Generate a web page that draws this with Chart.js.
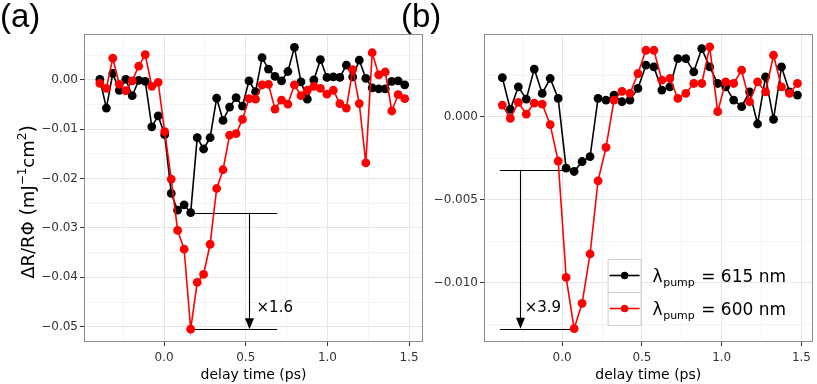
<!DOCTYPE html>
<html>
<head>
<meta charset="utf-8">
<script src="https://cdn.jsdelivr.net/npm/chart.js@4"></script>
<style>
  html, body { margin: 0; padding: 0; background: #fff; }
  #wrap { position: relative; width: 817px; height: 384px; overflow: hidden; }
  .panel { position: absolute; top: 0; height: 384px; }
  #panelA { left: 0; width: 430px; }
  #panelB { left: 430px; width: 387px; }
  .tag { position: absolute; top: -3px; font: 33px "Liberation Sans", sans-serif; color: #000; }
</style>
</head>
<body>
<div id="wrap">
  <div class="panel" id="panelA"><canvas id="chartA"></canvas></div>
  <div class="panel" id="panelB"><canvas id="chartB"></canvas></div>
  <div class="tag" style="left:0px">(a)</div>
  <div class="tag" style="left:401px">(b)</div>
</div>
<script>
// ---- panel (a) data: delay time (ps) and ΔR/RΦ
const timeA = [-0.393, -0.353, -0.314, -0.274, -0.234, -0.195, -0.155, -0.115, -0.075, -0.036,
  0.004, 0.044, 0.083, 0.123, 0.163, 0.203, 0.242, 0.282, 0.322, 0.361,
  0.401, 0.441, 0.480, 0.520, 0.560, 0.600, 0.639, 0.679, 0.719, 0.758,
  0.798, 0.838, 0.877, 0.917, 0.957, 0.997, 1.036, 1.076, 1.116, 1.155,
  1.195, 1.235, 1.274, 1.314, 1.354, 1.394, 1.433, 1.473];
const blackA = [0.0001, -0.0057, 0.0013, -0.0021, 0.0001, -0.0032, -0.0001, -0.0003, -0.0095, -0.0073,
  -0.0111, -0.0230, -0.0264, -0.0253, -0.0269, -0.0117, -0.0140, -0.0117, -0.0037, -0.0082,
  -0.0055, -0.0036, -0.0053, -0.0002, -0.0024, 0.0045, 0.0022, 0.0007, -0.0002, 0.0017,
  0.0066, -0.0004, -0.0039, 0.0000, 0.0041, 0.0005, 0.0006, 0.0005, 0.0030, 0.0006,
  0.0040, 0.0003, -0.0016, -0.0018, -0.0018, -0.0003, -0.0002, -0.0010];
const redA = [-0.0007, -0.0017, 0.0044, -0.0009, -0.0022, -0.0002, 0.0028, 0.0051, -0.0013, -0.0005,
  -0.0105, -0.0201, -0.0305, -0.0343, -0.0505, -0.0410, -0.0394, -0.0333, -0.0220, -0.0182,
  -0.0112, -0.0109, -0.0080, -0.0038, -0.0039, -0.0010, -0.0009, -0.0059, -0.0041, -0.0049,
  -0.0010, -0.0032, -0.0021, -0.0013, -0.0017, -0.0029, -0.0021, -0.0048, -0.0057, 0.0021,
  -0.0048, -0.0168, 0.0055, 0.0010, 0.0016, -0.0063, -0.0030, -0.0038];

// ---- panel (b) data
const timeB = [-0.375, -0.325, -0.275, -0.225, -0.175, -0.125, -0.075, -0.025, 0.025, 0.075,
  0.125, 0.175, 0.225, 0.275, 0.325, 0.375, 0.425, 0.475, 0.525, 0.575,
  0.625, 0.675, 0.725, 0.775, 0.825, 0.875, 0.925, 0.975, 1.025, 1.075,
  1.125, 1.175, 1.225, 1.275, 1.325, 1.375, 1.425, 1.475];
const blackB = [0.00235, 0.00044, 0.0018, 0.00106, 0.00287, 0.0014, 0.0023, 0.0011, -0.0031, -0.0033,
  -0.0027, -0.0024, 0.0011, 0.0010, 0.0013, 0.0009, 0.0010, 0.0017, 0.0031, 0.0030,
  0.0016, 0.0018, 0.0035, 0.0035, 0.0027, 0.0041, 0.0030, 0.0020, 0.0018, 0.0010,
  0.0006, 0.0015, -0.00044, 0.0024, -0.00016, 0.0030, 0.0015, 0.0013];
const redB = [0.0007, -0.0001, 0.00086, 0.00016, 0.00082, 0.00076, -0.00048, -0.00267, -0.00968, -0.01277,
  -0.01124, -0.00827, -0.00386, -0.00185, 0.0010, 0.00153, 0.0014, 0.0026, 0.0040, 0.0040,
  0.0022, 0.0023, 0.0011, 0.0014, 0.0020, 0.0020, 0.0042, 0.0003, 0.0021, 0.0020,
  0.0028, 0.0009, 0.0021, 0.0015, 0.0037, 0.0018, 0.0014, 0.0020];

// ---- ticks
const xTicks = [0, 0.5, 1, 1.5];
const xMinor = [-0.25, 0.25, 0.75, 1.25];
const yTicksA = [0, -0.01, -0.02, -0.03, -0.04, -0.05];
const yMinorA = [0.005, -0.005, -0.015, -0.025, -0.035, -0.045];
const yTicksB = [0, -0.005, -0.01];
const yMinorB = [0.0025, -0.0025, -0.0075, -0.0125];

// ---- legend + ratio annotations
const seriesWaves = ['615 nm', '600 nm'];
const seriesColors = ['#000000', '#ff0000'];
const levelsA = [-0.0269, -0.0505];
const levelFromA = [0.163, 0.163];
const levelToA = [0.692, 0.692];
const arrowA = [0.518, '×1.6', 0.566, -0.0463];
const levelsB = [-0.0032, -0.01277];
const levelFromB = [-0.391, -0.391];
const levelToB = [0.025, 0.075];
const arrowB = [-0.266, '×3.9', -0.235, -0.0115];

// y title pieces: [text, font size, baseline shift]
const yTitleParts = [['ΔR/RΦ ', 18, 0], ['(', 19, 0], ['mJ', 18, 0], ['\u22121', 12, -8],
  ['cm', 18, 0], ['2', 12, -8], [')', 19, 0]];

const FONT = '"DejaVu Sans", sans-serif';
const MAJOR = '#e6e6e6', MINOR = '#f4f4f4';

function fmt(v, d) {
  return (v < 0 ? '\u2212' : '') + Math.abs(v).toFixed(d);
}

function xAxis(min, max) {
  return {
    type: 'linear', min: min, max: max,
    afterBuildTicks: s => { s.ticks = xMinor.concat(xTicks).sort((a, b) => a - b).map(v => ({value: v})); },
    afterFit: s => { s.height = 42; },
    ticks: {
      autoSkip: false, maxRotation: 0, padding: 5, color: '#333',
      font: {family: FONT, size: 12},
      callback: v => xTicks.includes(v) ? fmt(v, 1) : ''
    },
    grid: {
      color: c => c.tick && xTicks.includes(c.tick.value) ? MAJOR : MINOR,
      tickColor: c => c.tick && xTicks.includes(c.tick.value) ? '#333' : 'rgba(0,0,0,0)',
      tickLength: 4, lineWidth: 1
    },
    border: {display: false},
    title: {display: true, text: 'delay time (ps)', color: '#000', font: {family: FONT, size: 14}, padding: 0}
  };
}

function yAxis(min, max, major, minor, digits, width) {
  return {
    type: 'linear', min: min, max: max,
    afterBuildTicks: s => { s.ticks = minor.concat(major).sort((a, b) => a - b).map(v => ({value: v})); },
    afterFit: s => { s.width = width; },
    ticks: {
      autoSkip: false, padding: 2, color: '#333',
      font: {family: FONT, size: 12},
      callback: v => major.includes(v) ? fmt(v, digits) : ''
    },
    grid: {
      color: c => c.tick && major.includes(c.tick.value) ? MAJOR : MINOR,
      tickColor: c => c.tick && major.includes(c.tick.value) ? '#333' : 'rgba(0,0,0,0)',
      tickLength: 4, lineWidth: 1
    },
    border: {display: false}
  };
}

function series(times, values, color, order) {
  return {
    data: times.map((t, i) => ({x: t, y: values[i]})),
    borderColor: color, backgroundColor: color,
    pointBackgroundColor: color, pointBorderWidth: 0,
    pointRadius: 4.4, borderWidth: 1.6, tension: 0, order: order
  };
}

// panel border, level lines, arrow and factor label
function ratioPlugin(levels, from, to, arrow) {
  return {
    id: 'ratio',
    beforeDatasetsDraw(chart) {
      const {ctx, scales: {x, y}} = chart;
      ctx.save();
      ctx.strokeStyle = '#000';
      ctx.lineWidth = 1.1;
      levels.forEach((lv, i) => {
        const py = Math.round(y.getPixelForValue(lv)) + 0.5;
        ctx.beginPath();
        ctx.moveTo(x.getPixelForValue(from[i]), py);
        ctx.lineTo(x.getPixelForValue(to[i]), py);
        ctx.stroke();
      });
      const ax = Math.round(x.getPixelForValue(arrow[0])) + 0.5;
      const y0 = y.getPixelForValue(levels[0]);
      const y1 = y.getPixelForValue(levels[1]);
      ctx.beginPath();
      ctx.moveTo(ax, y0);
      ctx.lineTo(ax, y1 - 10);
      ctx.stroke();
      ctx.fillStyle = '#000';
      ctx.beginPath();
      ctx.moveTo(ax - 4.5, y1 - 11);
      ctx.lineTo(ax + 4.5, y1 - 11);
      ctx.lineTo(ax, y1);
      ctx.closePath();
      ctx.fill();
      ctx.font = '15px ' + FONT;
      ctx.textAlign = 'left';
      ctx.textBaseline = 'middle';
      ctx.fillText(arrow[1], x.getPixelForValue(arrow[2]), y.getPixelForValue(arrow[3]));
      ctx.restore();
    },
    afterDraw(chart) {
      const {ctx, chartArea: a} = chart;
      ctx.save();
      ctx.strokeStyle = '#8c8c8c';
      ctx.lineWidth = 1;
      ctx.strokeRect(Math.round(a.left) + 0.5, Math.round(a.top) + 0.5,
        Math.round(a.right - a.left) - 1, Math.round(a.bottom - a.top) - 1);
      ctx.restore();
    }
  };
}

// rotated y title with real superscripts
const yTitlePlugin = {
  id: 'yTitle',
  afterDraw(chart) {
    const ctx = chart.ctx;
    ctx.save();
    ctx.translate(27, 202);
    ctx.rotate(-Math.PI / 2);
    ctx.fillStyle = '#000';
    ctx.textBaseline = 'alphabetic';
    ctx.textAlign = 'left';
    let total = 0;
    yTitleParts.forEach(p => { ctx.font = p[1] + 'px ' + FONT; total += ctx.measureText(p[0]).width; });
    let tx = -total / 2;
    yTitleParts.forEach(p => {
      ctx.font = p[1] + 'px ' + FONT;
      ctx.fillText(p[0], tx, 6.5 + p[2]);
      tx += ctx.measureText(p[0]).width;
    });
    ctx.restore();
  }
};

const legendPlugin = {
  id: 'pumpLegend',
  afterDraw(chart) {
    const {ctx, chartArea: a} = chart;
    const left = a.right - 205, top = a.bottom - 83, w = 33, h = 33;
    ctx.save();
    seriesWaves.forEach((wave, i) => {
      const ty = top + i * h;
      ctx.fillStyle = '#fff';
      ctx.fillRect(left, ty, w, h);
      ctx.strokeStyle = '#cccccc';
      ctx.lineWidth = 1;
      ctx.strokeRect(left + 0.5, ty + 0.5, w, h);
      const cy = ty + h / 2;
      ctx.strokeStyle = seriesColors[i];
      ctx.lineWidth = 1.6;
      ctx.beginPath();
      ctx.moveTo(left + 2, cy);
      ctx.lineTo(left + w - 1, cy);
      ctx.stroke();
      ctx.fillStyle = seriesColors[i];
      ctx.beginPath();
      ctx.arc(left + w / 2 + 0.5, cy, 3.8, 0, Math.PI * 2);
      ctx.fill();
      // label with subscript
      ctx.fillStyle = '#000';
      ctx.textBaseline = 'alphabetic';
      ctx.textAlign = 'left';
      let tx = left + 45;
      const base = cy + 6;
      ctx.font = '17px ' + FONT;
      ctx.fillText('λ', tx, base);
      tx += ctx.measureText('λ').width + 0.5;
      ctx.font = '11px ' + FONT;
      ctx.fillText('pump', tx, base + 4);
      tx += ctx.measureText('pump').width + 1;
      ctx.font = '17px ' + FONT;
      ctx.fillText(' = ' + wave, tx, base);
    });
    ctx.restore();
  }
};

function baseOptions(scales) {
  return {
    responsive: true, maintainAspectRatio: false, animation: false, devicePixelRatio: 1,
    layout: {padding: {top: 34, right: scales.pad, left: 0, bottom: 0}},
    plugins: {legend: {display: false}, tooltip: {enabled: false}},
    scales: {x: scales.x, y: scales.y}
  };
}

new Chart(document.getElementById('chartA'), {
  type: 'line',
  data: {datasets: [series(timeA, blackA, seriesColors[0], 2), series(timeA, redA, seriesColors[1], 1)]},
  options: baseOptions({
    pad: 7,
    x: xAxis(-0.49, 1.585),
    y: yAxis(-0.0531, 0.0093, yTicksA, yMinorA, 2, 84)
  }),
  plugins: [ratioPlugin(levelsA, levelFromA, levelToA, arrowA), yTitlePlugin]
});

new Chart(document.getElementById('chartB'), {
  type: 'line',
  data: {datasets: [series(timeB, blackB, seriesColors[0], 2), series(timeB, redB, seriesColors[1], 1)]},
  options: baseOptions({
    pad: 2,
    x: xAxis(-0.49, 1.57),
    y: yAxis(-0.01357, 0.00498, yTicksB, yMinorB, 3, 54)
  }),
  plugins: [ratioPlugin(levelsB, levelFromB, levelToB, arrowB), legendPlugin]
});
</script>
</body>
</html>
